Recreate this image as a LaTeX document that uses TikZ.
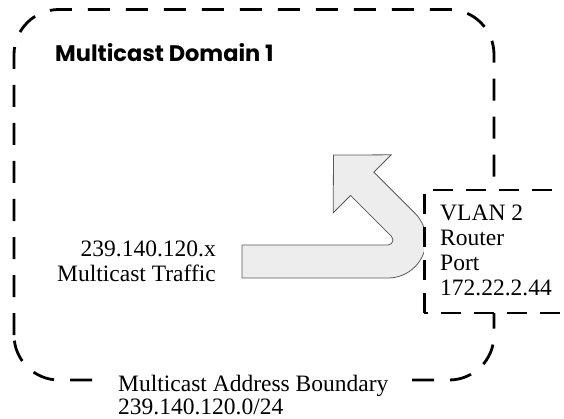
\documentclass[tikz,border=0pt]{standalone}
\usepackage{fontspec}
\setmainfont{Liberation Serif}
\newfontfamily\domainfont{Poppins}
\tikzset{>=latex,
  boundary/.style={line width=2.8pt,dash pattern=on 22pt off 16pt},
  portbox/.style={line width=2.8pt,dash pattern=on 20pt off 13pt,fill=white},
  flow/.style={draw=black!65,line width=0.8pt,fill=black!7},
  lbl/.style={inner sep=0pt,font=\fontsize{23.5}{25}\selectfont}
}

\begin{document}
\begin{tikzpicture}[x=1pt,y=1pt]
            \useasboundingbox (0,0) rectangle (564,418);
            \draw[boundary,rounded corners=45pt] (14,38) rectangle (494,408.5);
            \node[lbl,anchor=base west,font=\domainfont\bfseries\fontsize{22.5}{25}\selectfont] (domain) at (55,356) {Multicast Domain 1};
            % traffic arrow
            \coordinate (bend) at (388,178);
            \coordinate (neck) at (362.2,234.2);
            \coordinate (tip) at ([shift={(135:40.6)}]neck);
            \filldraw[flow] (242,140) -- ([shift={(-90:38)}]bend) arc[start angle=-90,end angle=45,radius=38]
                -- ([shift={(45:16.5)}]neck) -- ([shift={(45:41)}]neck) -- (tip)
                -- ([shift={(-135:41)}]neck) -- ([shift={(-135:16.5)}]neck)
                -- ([shift={(45:5)}]bend) arc[start angle=45,end angle=-90,radius=5]
                -- (242,173) -- cycle;
            \node[lbl,align=right,anchor=base east] (traffic) at (216,136.3) {239.140.120.x\\Multicast Traffic};
            % router port
            \draw[portbox] (424.3,105) rectangle (600,228);
            \node[lbl,align=left,anchor=base west] (port) at (440,122.3) {VLAN 2\\Router\\Port\\172.22.2.44};
            \node[lbl,align=left,anchor=base west,fill=white,inner xsep=14pt,font=\fontsize{23.5}{23}\selectfont] (bound) at (104,4) {Multicast Address Boundary\\239.140.120.0/24};
        \end{tikzpicture}
\end{document}
